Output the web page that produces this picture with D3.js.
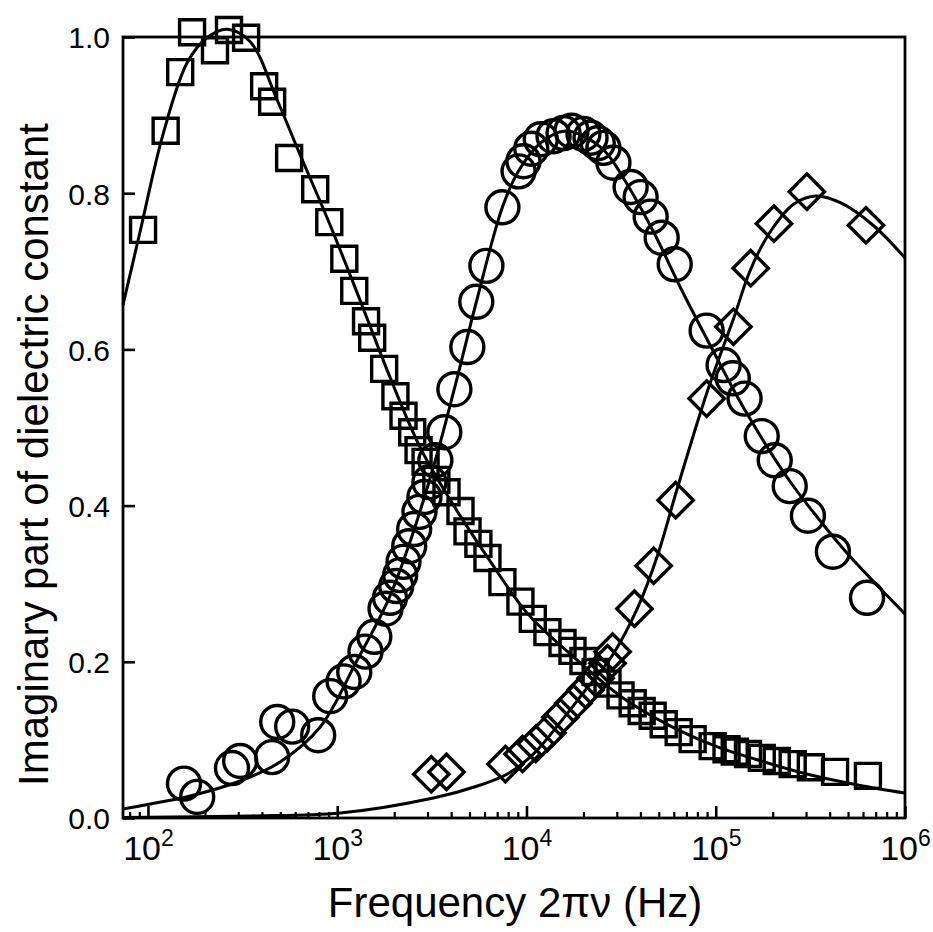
<!DOCTYPE html>
<html>
<head>
<meta charset="utf-8">
<script src="https://cdn.jsdelivr.net/npm/d3@7"></script>
<style>
  body { margin: 0; background: #fff; }
  svg { display: block; }
  text { font-family: "Liberation Sans", Arial, Helvetica, sans-serif; fill: #000; }
</style>
</head>
<body>
<svg id="chart" width="933" height="932"></svg>
<script>
// Measured loss peaks: [angular frequency (Hz), imaginary dielectric constant]
const squarePoints = [
  [94.2,0.753],[124,0.880],[148,0.955],[171,1.006],[226,0.983],[268,1.009],[330,0.999],
  [411,0.937],[453,0.917],[557,0.845],[765,0.805],[908,0.763],[1090,0.716],[1230,0.675],
  [1420,0.636],[1530,0.615],[1770,0.575],[2030,0.540],[2240,0.515],[2490,0.494],[2690,0.471],
  [2930,0.456],[3340,0.433],[3780,0.417],[4480,0.393],[4880,0.367],[5570,0.351],[6220,0.333],
  [7460,0.302],[9290,0.277],[10800,0.255],[12900,0.238],[15500,0.224],[17500,0.214],
  [20000,0.201],[23200,0.187],[26800,0.172],[31400,0.157],[36400,0.147],[40600,0.137],
  [46400,0.131],[53100,0.120],[63700,0.110],[75500,0.101],[96300,0.092],[114000,0.088],
  [126000,0.085],[148000,0.082],[175000,0.077],[210000,0.073],[255000,0.069],[318000,0.065],
  [427000,0.059],[637000,0.054]
];
const circlePoints = [
  [155,0.044],[182,0.027],[278,0.064],[307,0.073],[453,0.078],[482,0.123],[578,0.117],
  [793,0.106],[918,0.156],[1080,0.175],[1230,0.187],[1410,0.213],[1570,0.232],[1800,0.268],
  [1900,0.282],[2050,0.297],[2150,0.311],[2240,0.328],[2400,0.348],[2550,0.370],[2720,0.392],
  [2890,0.411],[3070,0.430],[3300,0.458],[3680,0.494],[4160,0.549],[4870,0.603],[5430,0.661],
  [6140,0.707],[7460,0.782],[9080,0.828],[9640,0.841],[10600,0.857],[11900,0.869],
  [13900,0.873],[15700,0.877],[17300,0.880],[20000,0.876],[21800,0.871],[23800,0.864],
  [25500,0.858],[28800,0.839],[35500,0.808],[40100,0.795],[45300,0.770],[51800,0.743],
  [60700,0.709],[89500,0.624],[110000,0.580],[123000,0.563],[142000,0.537],[175000,0.489],
  [205000,0.458],[246000,0.425],[307000,0.387],[416000,0.341],[630000,0.282]
];
const diamondPoints = [
  [3140,0.056],[3780,0.059],[7740,0.069],[9530,0.082],[11200,0.095],[12900,0.109],
  [15100,0.129],[17700,0.147],[20500,0.164],[23200,0.179],[26800,0.198],[28500,0.213],
  [37200,0.268],[47000,0.323],[61400,0.407],[89500,0.537],[124000,0.629],[153000,0.704],
  [203000,0.761],[303000,0.802],[622000,0.759]
];

// Fitted relaxation curves, sampled along the frequency axis
const squareFit = [
  [73.8,0.657],[90.7,0.750],[120,0.875],[161,0.967],[205,0.999],[262,1.010],[347,0.994],
  [482,0.919],[637,0.849],[918,0.759],[1320,0.663],[1910,0.563],[2750,0.474],[3960,0.407],
  [6220,0.334],[10100,0.262],[16500,0.213],[31800,0.155],[56400,0.119],[100000,0.092],
  [179000,0.072],[318000,0.055],[571000,0.042],[1000000,0.032]
];
const circleFit = [
  [73.8,0.0115],[103,0.0179],[167,0.0282],[307,0.0474],[499,0.0717],[813,0.1165],
  [1276,0.2023],[1841,0.2766],[2404,0.3508],[3302,0.4584],[4157,0.5493],[5433,0.6607],
  [7466,0.7823],[9078,0.8284],[11860,0.8643],[16070,0.8796],[20510,0.8719],[26180,0.8528],
  [34210,0.8105],[46960,0.7503],[66070,0.6761],[97560,0.5967],[140600,0.5250],
  [237600,0.4366],[330300,0.3905],[493400,0.3393],[1000000,0.2612]
];
const diamondFit = [
  [73.8,0.0006],[347,0.0026],[1037,0.0064],[3221,0.0256],[5508,0.0410],[7925,0.0563],
  [10890,0.0820],[15140,0.1230],[20510,0.1639],[28510,0.2087],[38640,0.2689],[49330,0.3367],
  [62940,0.4238],[90770,0.5480],[124500,0.6402],[153100,0.7029],[195400,0.7516],
  [258700,0.7862],[338300,0.7964],[458300,0.7875],[685600,0.7580],[1000000,0.7170]
];

// Axis ticks
const yTicks = [0, 0.2, 0.4, 0.6, 0.8, 1.0];
const xDecades = [1e2, 1e3, 1e4, 1e5, 1e6];
const xTitle = "Frequency 2\u03C0\u03BD (Hz)";
const yTitle = "Imaginary part of dielectric constant";

const svg = d3.select("#chart");
const plot = { left: 123, right: 905, top: 37, bottom: 818 };

const x = d3.scaleLog().domain([73.8, 1e6]).range([plot.left, plot.right]);
const y = d3.scaleLinear().domain([0, 1]).range([plot.bottom, plot.top]);

// minor log ticks 2..9 within each decade
const xMinor = [];
for (let dec = 10; dec < 1e6; dec *= 10) {
  for (let k = 2; k <= 9; k++) {
    const v = k * dec;
    if (v >= x.domain()[0] && v <= x.domain()[1]) xMinor.push(v);
  }
}

// frame
svg.append("rect")
  .attr("x", plot.left).attr("y", plot.top)
  .attr("width", plot.right - plot.left).attr("height", plot.bottom - plot.top)
  .attr("fill", "none").attr("stroke", "#000").attr("stroke-width", 2.8);

// x axis: minor ticks
svg.append("g")
  .attr("transform", `translate(0,${plot.bottom})`)
  .call(d3.axisBottom(x).tickValues(xMinor).tickSize(-6).tickFormat(""))
  .call(g => g.select(".domain").remove())
  .call(g => g.selectAll(".tick line").attr("stroke-width", 2.2));

// x axis: decades with superscript labels
const gx = svg.append("g")
  .attr("transform", `translate(0,${plot.bottom})`)
  .call(d3.axisBottom(x).tickValues(xDecades).tickSize(-12).tickFormat(""))
  .call(g => g.select(".domain").remove())
  .call(g => g.selectAll(".tick line").attr("stroke-width", 2.6));
gx.selectAll(".tick text").remove();
gx.selectAll(".tick").each(function (d) {
  const t = d3.select(this).append("text")
    .attr("y", 42).attr("text-anchor", "middle")
    .attr("font-size", 34).attr("fill", "#000");
  t.append("tspan").text("10");
  t.append("tspan").attr("dy", -14).attr("font-size", 23).text(Math.round(Math.log10(d)));
});

// y axis
svg.append("g")
  .attr("transform", `translate(${plot.left},0)`)
  .call(d3.axisLeft(y).tickValues(yTicks).tickSize(-12).tickPadding(13).tickFormat(d3.format(".1f")))
  .call(g => g.select(".domain").remove())
  .call(g => g.selectAll(".tick line").attr("stroke-width", 2.6))
  .call(g => g.selectAll(".tick text")
    .attr("font-size", 30).attr("fill", "#000").attr("dy", "0.36em")
    .attr("font-family", '"Liberation Sans", Arial, Helvetica, sans-serif'));

// fitted curves
const line = d3.line()
  .x(d => x(d[0])).y(d => y(d[1]))
  .curve(d3.curveCatmullRom.alpha(0.5));

[squareFit, circleFit, diamondFit].forEach(fit => {
  svg.append("path")
    .datum(fit)
    .attr("d", line)
    .attr("fill", "none").attr("stroke", "#000").attr("stroke-width", 3);
});

// open markers
const markerStyle = sel => sel.attr("fill", "none").attr("stroke", "#000").attr("stroke-width", 3.4);

svg.append("g").selectAll("path")
  .data(squarePoints).join("path")
  .attr("d", d3.symbol(d3.symbolSquare, 625))
  .attr("transform", d => `translate(${x(d[0])},${y(d[1])})`)
  .call(markerStyle);

svg.append("g").selectAll("circle")
  .data(circlePoints).join("circle")
  .attr("cx", d => x(d[0])).attr("cy", d => y(d[1])).attr("r", 16.5)
  .call(markerStyle);

svg.append("g").selectAll("path")
  .data(diamondPoints).join("path")
  .attr("d", d3.symbol(d3.symbolSquare, 625))
  .attr("transform", d => `translate(${x(d[0])},${y(d[1])}) rotate(45)`)
  .call(markerStyle);

// axis titles
svg.append("text")
  .attr("x", (plot.left + plot.right) / 2 + 1).attr("y", 917)
  .attr("text-anchor", "middle").attr("font-size", 42)
  .text(xTitle);

svg.append("text")
  .attr("transform", `translate(48,${(plot.top + plot.bottom) / 2 + 27}) rotate(-90)`)
  .attr("text-anchor", "middle").attr("font-size", 42)
  .text(yTitle);
</script>
</body>
</html>
